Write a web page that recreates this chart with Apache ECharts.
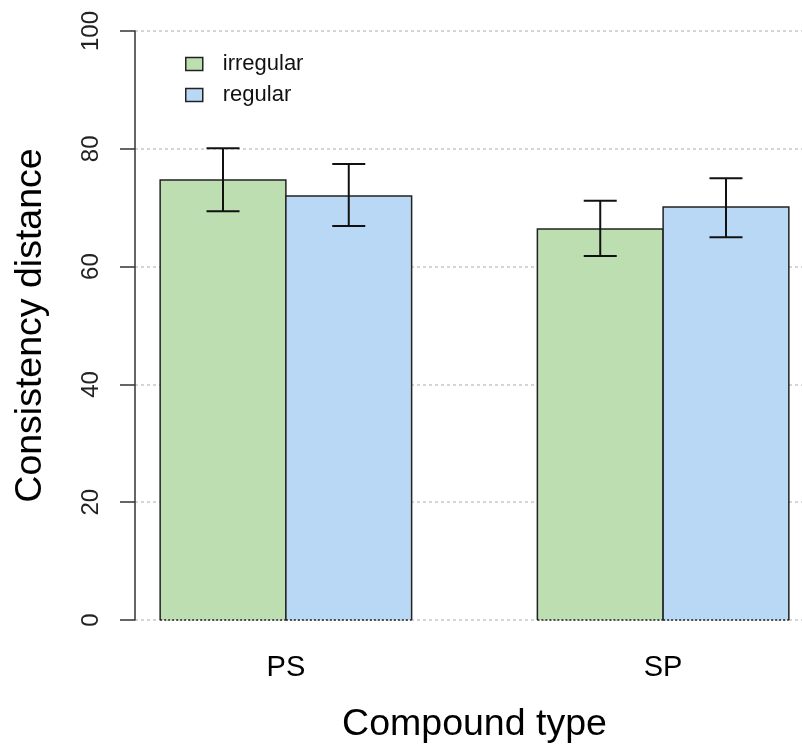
<!DOCTYPE html>
<html>
<head>
<meta charset="utf-8">
<script src="https://cdn.jsdelivr.net/npm/echarts@6/dist/echarts.min.js"></script>
<style>
html,body{margin:0;padding:0;background:#fff;}
#chart{width:802px;height:747px;}
</style>
</head>
<body>
<div id="chart"></div>
<script>
// ---- data ----
var categories = ['PS', 'SP'];
var seriesNames = ['irregular', 'regular'];
var irregularMean  = [74.7, 66.4];
var irregularLower = [69.4, 61.8];
var irregularUpper = [80.1, 71.2];
var regularMean    = [72.0, 70.1];
var regularLower   = [66.9, 65.0];
var regularUpper   = [77.4, 75.0];
var yMin = 0, yMax = 100, yStep = 20;

// ---- styles ----
var colors = ['#BCDEB0', '#B8D8F5'];
var FONT = '"Liberation Sans", Arial, sans-serif';
var barsPerGroup = seriesNames.length;
var groupSpace = 1;
var groupSize = barsPerGroup + groupSpace;
// R-like x range: bars occupy [1, N*groupSize], padded by 4%
var xStart = 1, xEnd = categories.length * groupSize;
var pad = (xEnd - xStart) * 0.04;

function catCenter(i) { return xStart + i * groupSize + barsPerGroup / 2; }

function makeRender(sIdx) {
  return function (params, api) {
    var ci = api.value(0);
    var x0 = xStart + ci * groupSize + sIdx;
    var pTop = api.coord([x0, api.value(1)]);
    var pBot = api.coord([x0 + 1, 0]);
    var xl = pTop[0], xr = pBot[0], yt = pTop[1], yb = pBot[1];
    var xc = (xl + xr) / 2;
    var yLo = api.coord([x0, api.value(2)])[1];
    var yHi = api.coord([x0, api.value(3)])[1];
    var cap = 16.5;
    var border = { stroke: '#222', lineWidth: 1.5, fill: null };
    var err = { stroke: '#111', lineWidth: 2, fill: null };
    return {
      type: 'group',
      children: [
        { type: 'rect', shape: { x: xl, y: yt, width: xr - xl, height: yb - yt }, style: { fill: colors[sIdx], stroke: null } },
        { type: 'polyline', shape: { points: [[xl, yb], [xl, yt], [xr, yt], [xr, yb]] }, style: border },
        { type: 'line', shape: { x1: xl, y1: yb, x2: xr, y2: yb }, style: { stroke: '#222', lineWidth: 1.5, lineDash: [2, 2] } },
        { type: 'line', shape: { x1: xc, y1: yLo, x2: xc, y2: yHi }, style: err },
        { type: 'line', shape: { x1: xc - cap, y1: yLo, x2: xc + cap, y2: yLo }, style: err },
        { type: 'line', shape: { x1: xc - cap, y1: yHi, x2: xc + cap, y2: yHi }, style: err }
      ]
    };
  };
}

function buildData(mean, lo, hi) {
  return categories.map(function (c, i) { return [i, mean[i], lo[i], hi[i]]; });
}

var chart = echarts.init(document.getElementById('chart'), null, { renderer: 'canvas' });
chart.setOption({
  backgroundColor: '#ffffff',
  animation: false,
  textStyle: { fontFamily: FONT },
  grid: { left: 135, width: 679, top: 31, height: 589, containLabel: false, outerBoundsMode: 'none' },
  legend: {
    orient: 'vertical',
    left: 180,
    top: 48,
    itemWidth: 17,
    itemHeight: 13,
    itemGap: 9,
    icon: 'rect',
    itemStyle: { borderColor: '#222', borderWidth: 1.5 },
    textStyle: { fontFamily: FONT, fontSize: 22, color: '#111', padding: [0, 0, 0, 15] },
    data: seriesNames
  },
  xAxis: {
    type: 'value',
    min: xStart - pad,
    max: xEnd + pad,
    name: 'Compound type',
    nameLocation: 'middle',
    nameGap: 86,
    nameTextStyle: { fontFamily: FONT, fontSize: 37.5, color: '#000' },
    axisLine: { show: false },
    axisTick: { show: false },
    splitLine: { show: false },
    axisLabel: {
      customValues: categories.map(function (c, i) { return catCenter(i); }),
      formatter: function (v) {
        for (var i = 0; i < categories.length; i++) { if (Math.abs(catCenter(i) - v) < 1e-6) return categories[i]; }
        return '';
      },
      margin: 33,
      fontFamily: FONT,
      fontSize: 29,
      color: '#000'
    }
  },
  yAxis: {
    type: 'value',
    min: yMin,
    max: yMax,
    interval: yStep,
    name: 'Consistency distance',
    nameLocation: 'middle',
    nameRotate: 90,
    nameGap: 85,
    nameTextStyle: { fontFamily: FONT, fontSize: 37.5, color: '#000' },
    axisLine: { show: true, lineStyle: { color: '#333', width: 1.5 } },
    axisTick: { show: true, inside: false, length: 15, lineStyle: { color: '#333', width: 1.5 } },
    axisLabel: { rotate: 90, margin: 32, fontFamily: FONT, fontSize: 24, color: '#222' },
    splitLine: { show: true, lineStyle: { color: '#c8c8c8', width: 1.5, type: [3, 3] } }
  },
  series: [
    {
      name: seriesNames[0], type: 'custom', renderItem: makeRender(0),
      itemStyle: { color: colors[0], borderColor: '#222' },
      encode: { x: 0, y: 1 },
      data: buildData(irregularMean, irregularLower, irregularUpper)
    },
    {
      name: seriesNames[1], type: 'custom', renderItem: makeRender(1),
      itemStyle: { color: colors[1], borderColor: '#222' },
      encode: { x: 0, y: 1 },
      data: buildData(regularMean, regularLower, regularUpper)
    }
  ]
});
</script>
</body>
</html>
